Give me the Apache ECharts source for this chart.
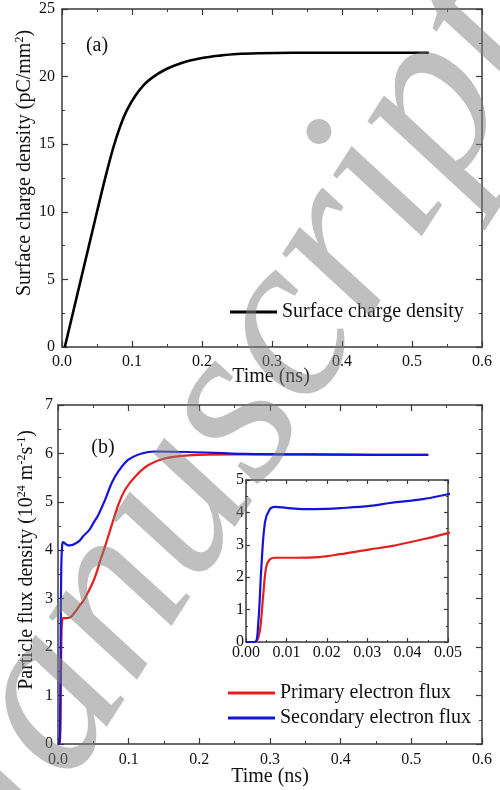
<!DOCTYPE html>
<html>
<head>
<meta charset="utf-8">
<script src="https://cdn.jsdelivr.net/npm/echarts@6/dist/echarts.min.js"></script>
<style>
  html, body { margin: 0; padding: 0; background: #fff; }
  #chart { width: 500px; height: 790px; }
</style>
</head>
<body>
<div id="chart"></div>
<script>
// (a) surface charge density, pC/mm^2
var chargeTime = [0.004, 0.0155, 0.027, 0.0385, 0.050, 0.0615, 0.073, 0.083, 0.0926, 0.105, 0.118, 0.131, 0.145, 0.16, 0.18, 0.2, 0.225, 0.25, 0.28, 0.33, 0.4, 0.524];
var chargeValues = [0, 2.5, 5.0, 7.5, 10.0, 12.45, 14.7, 16.3, 17.5, 18.6, 19.45, 20.0, 20.45, 20.8, 21.15, 21.38, 21.55, 21.67, 21.73, 21.76, 21.76, 21.76];

// (b) particle flux density, 10^24 m^-2 s^-1
var primaryTime = [0, 0.0022, 0.003, 0.0036, 0.0043, 0.005, 0.0059, 0.0072, 0.012, 0.018, 0.0233, 0.0307, 0.0356, 0.0438, 0.05, 0.0548, 0.0605, 0.0666, 0.076, 0.0854, 0.0949, 0.109, 0.128, 0.152, 0.185, 0.25, 0.35, 0.45, 0.524];
var primaryFlux = [0, 0, 0.12, 0.5, 1.5, 2.32, 2.55, 2.6, 2.6, 2.62, 2.71, 2.86, 2.95, 3.17, 3.36, 3.55, 3.82, 4.08, 4.52, 4.94, 5.25, 5.52, 5.76, 5.9, 5.96, 5.98, 5.98, 5.97, 5.97];
var secondaryTime = [0, 0.0022, 0.003, 0.0038, 0.0047, 0.0059, 0.0072, 0.01, 0.014, 0.02, 0.0233, 0.0307, 0.0356, 0.0438, 0.05, 0.057, 0.0666, 0.076, 0.0854, 0.0996, 0.1185, 0.137, 0.184, 0.265, 0.35, 0.45, 0.524];
var secondaryFlux = [0, 0, 0.52, 2.3, 3.7, 4.1, 4.17, 4.14, 4.1, 4.11, 4.13, 4.2, 4.29, 4.41, 4.56, 4.73, 5.04, 5.39, 5.63, 5.87, 6.0, 6.04, 6.03, 5.99, 5.98, 5.97, 5.97];

var timeTicks = ["0.0", "0.1", "0.2", "0.3", "0.4", "0.5", "0.6"];
var insetTimeTicks = ["0.00", "0.01", "0.02", "0.03", "0.04", "0.05"];
var chargeTicks = ["0", "5", "10", "15", "20", "25"];
var fluxTicks = ["0", "1", "2", "3", "4", "5", "6", "7"];
var insetFluxTicks = ["0", "1", "2", "3", "4", "5"];

function pairs(xs, ys) {
  return xs.map(function (x, i) { return [x, ys[i]]; });
}

var serif = "Liberation Serif";
var ink = "#111";
var frame = "#3a3a3a";

function axis(opt) {
  var labels = opt.labels;
  return {
    type: "value",
    gridIndex: opt.grid,
    position: opt.position,
    min: opt.min, max: opt.max, interval: opt.interval,
    axisLine: { show: true, onZero: false, lineStyle: { color: frame, width: 1.5 } },
    axisTick: { show: true, inside: true, length: opt.tick || 6, lineStyle: { color: frame, width: 1.2 } },
    minorTick: { show: true, splitNumber: 2, length: opt.minor || 3, lineStyle: { color: frame, width: 1 } },
    splitLine: { show: false },
    axisLabel: labels ? {
      show: true, margin: opt.margin, color: ink, fontFamily: serif, fontSize: 16,
      formatter: function (v) { return labels[Math.round((v - opt.min) / opt.interval)]; }
    } : { show: false }
  };
}

var chart = echarts.init(document.getElementById("chart"), null, { renderer: "canvas" });

var supStyle = { fontSize: 12, fontFamily: serif, color: ink, verticalAlign: "top", lineHeight: 12 };
var red = "#e41f1f", blue = "#1414d8";

function line(name, xi, xs, ys, color, width) {
  return {
    name: name, type: "line", xAxisIndex: xi, yAxisIndex: xi, symbol: "none", smooth: 0.35, clip: true,
    data: pairs(xs, ys), lineStyle: { color: color, width: width }, itemStyle: { color: color }
  };
}

chart.setOption({
  animation: false,
  backgroundColor: "#fff",
  grid: [
    { left: 62, top: 9, width: 420, height: 338 },
    { left: 58, top: 405, width: 424, height: 339 },
    { left: 246, top: 480, width: 202, height: 162 }
  ],
  xAxis: [
    axis({ grid: 0, position: "bottom", min: 0, max: 0.6, interval: 0.1, labels: timeTicks, margin: 7 }),
    axis({ grid: 0, position: "top", min: 0, max: 0.6, interval: 0.1 }),
    axis({ grid: 1, position: "bottom", min: 0, max: 0.6, interval: 0.1, labels: timeTicks, margin: 8 }),
    axis({ grid: 1, position: "top", min: 0, max: 0.6, interval: 0.1 }),
    axis({ grid: 2, position: "bottom", min: 0, max: 0.05, interval: 0.01, labels: insetTimeTicks, margin: 3, tick: 4, minor: 2 }),
    axis({ grid: 2, position: "top", min: 0, max: 0.05, interval: 0.01, tick: 4, minor: 2 })
  ],
  yAxis: [
    axis({ grid: 0, position: "left", min: 0, max: 25, interval: 5, labels: chargeTicks, margin: 7 }),
    axis({ grid: 0, position: "right", min: 0, max: 25, interval: 5 }),
    axis({ grid: 1, position: "left", min: 0, max: 7, interval: 1, labels: fluxTicks, margin: 5 }),
    axis({ grid: 1, position: "right", min: 0, max: 7, interval: 1 }),
    axis({ grid: 2, position: "left", min: 0, max: 5, interval: 1, labels: insetFluxTicks, margin: 2, tick: 4, minor: 2 }),
    axis({ grid: 2, position: "right", min: 0, max: 5, interval: 1, tick: 4, minor: 2 })
  ],
  legend: [
    {
      left: 230, top: 300, padding: 0, itemWidth: 47, itemHeight: 3, icon: "rect",
      data: ["Surface charge density"],
      textStyle: { fontFamily: serif, fontSize: 20, color: ink, lineHeight: 24 }
    },
    {
      left: 228, top: 681, padding: 0, itemWidth: 47, itemHeight: 3, icon: "rect", orient: "vertical", itemGap: 1,
      data: ["Primary electron flux", "Secondary electron flux"],
      textStyle: { fontFamily: serif, fontSize: 20, color: ink, lineHeight: 24 }
    }
  ],
  series: [
    line("Surface charge density", 0, chargeTime, chargeValues, "#000", 2.6),
    line("Primary electron flux", 2, primaryTime, primaryFlux, red, 2.2),
    line("Secondary electron flux", 2, secondaryTime, secondaryFlux, blue, 2.2),
    line("Primary electron flux", 4, primaryTime, primaryFlux, red, 2.2),
    line("Secondary electron flux", 4, secondaryTime, secondaryFlux, blue, 2.2)
  ],
  graphic: [
    { type: "text", x: 25, y: 163, rotation: Math.PI / 2,
      style: { text: "Surface charge density (pC/mm{sup|2})", fontFamily: serif, fontSize: 20, fill: ink,
        align: "center", verticalAlign: "middle", lineHeight: 22, rich: { sup: supStyle } } },
    { type: "text", x: 27, y: 560, rotation: Math.PI / 2,
      style: { text: "Particle flux density (10{sup|24} m{sup|-2}s{sup|-1})", fontFamily: serif, fontSize: 20, fill: ink,
        align: "center", verticalAlign: "middle", lineHeight: 22, rich: { sup: supStyle } } },
    { type: "text", x: 271, y: 377,
      style: { text: "Time (ns)", fontFamily: serif, fontSize: 20, fill: ink, align: "center", verticalAlign: "middle" } },
    { type: "text", x: 270, y: 777,
      style: { text: "Time (ns)", fontFamily: serif, fontSize: 20, fill: ink, align: "center", verticalAlign: "middle" } },
    { type: "text", x: 97, y: 46,
      style: { text: "(a)", fontFamily: serif, fontSize: 20, fill: ink, align: "center", verticalAlign: "middle" } },
    { type: "text", x: 103, y: 448,
      style: { text: "(b)", fontFamily: serif, fontSize: 20, fill: ink, align: "center", verticalAlign: "middle" } },
    { type: "text", x: 204, y: 461, rotation: 1.0, z: 100,
      style: { text: "Manuscript", fontFamily: serif, fontStyle: "italic", fontSize: 235, fill: "rgba(128,128,128,0.5)",
        align: "center", verticalAlign: "middle" } }
  ]
});
</script>
</body>
</html>
